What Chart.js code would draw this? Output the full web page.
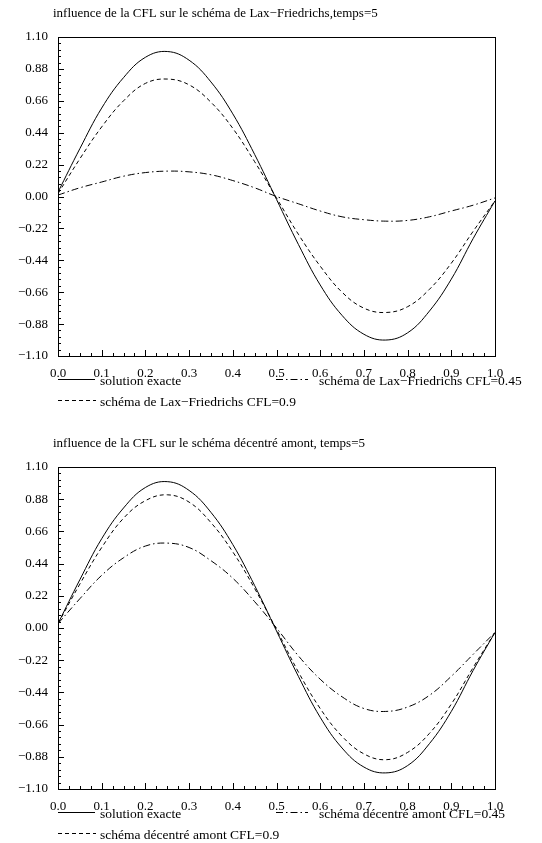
<!DOCTYPE html>
<html>
<head>
<meta charset="utf-8">
<script src="https://cdn.jsdelivr.net/npm/chart.js@4"></script>
<style>
  body { margin: 0; background: #fff; }
  canvas { display: block; }
</style>
</head>
<body>
<canvas id="laxChart" width="542" height="430"></canvas>
<canvas id="upwindChart" width="542" height="413"></canvas>
<script>
// abscisses
const xValues = [0, 0.05, 0.1, 0.15, 0.2, 0.25, 0.3, 0.35, 0.4, 0.45, 0.5,
  0.55, 0.6, 0.65, 0.7, 0.75, 0.8, 0.85, 0.9, 0.95, 1.0];

// solution exacte (identique sur les deux figures)
const exacte = [0.03, 0.33, 0.61, 0.82, 0.96, 1.00, 0.94, 0.79, 0.57, 0.29, -0.02,
  -0.33, -0.61, -0.82, -0.95, -0.99, -0.94, -0.79, -0.57, -0.29, -0.03];

// Lax-Friedrichs
const laxCfl09 = [0.02, 0.26, 0.48, 0.66, 0.78, 0.81, 0.77, 0.65, 0.47, 0.24, -0.01,
  -0.26, -0.48, -0.66, -0.77, -0.80, -0.76, -0.64, -0.46, -0.24, -0.03];
const laxCfl045 = [0.01, 0.06, 0.10, 0.14, 0.165, 0.175, 0.17, 0.15, 0.11, 0.06, 0.00,
  -0.05, -0.10, -0.14, -0.16, -0.17, -0.165, -0.14, -0.10, -0.06, -0.01];

// décentré amont
const amontCfl09 = [0.03, 0.30, 0.55, 0.75, 0.87, 0.91, 0.86, 0.72, 0.52, 0.27, -0.01,
  -0.30, -0.55, -0.74, -0.86, -0.90, -0.85, -0.72, -0.52, -0.27, -0.03];
const amontCfl045 = [0.03, 0.20, 0.36, 0.48, 0.56, 0.58, 0.55, 0.46, 0.34, 0.18, 0.00,
  -0.19, -0.35, -0.47, -0.55, -0.57, -0.54, -0.46, -0.33, -0.18, -0.03];

const xTicks = [0, 0.1, 0.2, 0.3, 0.4, 0.5, 0.6, 0.7, 0.8, 0.9, 1.0];
const xTickLabels = ['0.0', '0.1', '0.2', '0.3', '0.4', '0.5', '0.6', '0.7', '0.8', '0.9', '1.0'];
const yTicks = [-1.10, -0.88, -0.66, -0.44, -0.22, 0, 0.22, 0.44, 0.66, 0.88, 1.10];
const yTickLabels = ['\u22121.10', '\u22120.88', '\u22120.66', '\u22120.44', '\u22120.22', '0.00',
  '0.22', '0.44', '0.66', '0.88', '1.10'];

const FONT = '"Liberation Serif", "DejaVu Serif", serif';
const SOLID = [], DASHED = [4, 3], DASHDOT = [7, 3, 1.5, 3];

// cadre, graduations vers l'intérieur, titre et légende à la Scilab
const scilabPlugin = {
  id: 'scilab',
  afterDraw(chart, args, opts) {
    const ctx = chart.ctx;
    const a = chart.chartArea;
    const xs = chart.scales.x, ys = chart.scales.y;
    ctx.save();
    ctx.strokeStyle = '#000';
    ctx.lineWidth = 1;
    ctx.setLineDash([]);
    ctx.strokeRect(Math.round(a.left) + 0.5, Math.round(a.top) + 0.5,
      Math.round(a.right - a.left), Math.round(a.bottom - a.top));

    ctx.beginPath();
    for (let i = 0; i <= 40; i++) {
      const px = Math.round(xs.getPixelForValue(i * 0.025)) + 0.5;
      const len = i % 4 === 0 ? 6 : 3;
      ctx.moveTo(px, a.bottom);
      ctx.lineTo(px, a.bottom - len);
    }
    for (let i = 0; i <= 50; i++) {
      const py = Math.round(ys.getPixelForValue(-1.1 + i * 0.044)) + 0.5;
      const len = i % 5 === 0 ? 6 : 3;
      ctx.moveTo(a.left, py);
      ctx.lineTo(a.left + len, py);
    }
    ctx.stroke();

    ctx.fillStyle = '#000';
    ctx.font = '13px ' + FONT;
    ctx.textBaseline = 'middle';
    ctx.textAlign = 'left';
    ctx.fillText(opts.title, 53, 14);

    ctx.font = '13.5px ' + FONT;
    const y1 = a.bottom + 25, y2 = a.bottom + 46;
    const items = [
      { x0: 58, x1: 95, tx: 100, y: y1, dash: SOLID, text: opts.labels[0] },
      { x0: 276, x1: 308, tx: 319, y: y1, dash: DASHDOT, text: opts.labels[2] },
      { x0: 58, x1: 96, tx: 100, y: y2, dash: DASHED, text: opts.labels[1] }
    ];
    items.forEach(it => {
      ctx.setLineDash(it.dash);
      ctx.beginPath();
      ctx.moveTo(it.x0, Math.round(it.y - 2) + 0.5);
      ctx.lineTo(it.x1, Math.round(it.y - 2) + 0.5);
      ctx.stroke();
      ctx.fillText(it.text, it.tx, it.y);
    });
    ctx.restore();
  }
};

function serie(ys, dash) {
  return {
    data: xValues.map((x, i) => ({ x: x, y: ys[i] })),
    borderColor: '#000',
    borderWidth: 1,
    borderDash: dash,
    pointRadius: 0,
    tension: 0.4,
    fill: false
  };
}

function makeChart(id, title, labels, s09, s045, xAxisHeight) {
  return new Chart(document.getElementById(id), {
    type: 'line',
    data: {
      datasets: [serie(exacte, SOLID), serie(s09, DASHED), serie(s045, DASHDOT)]
    },
    options: {
      responsive: false,
      animation: false,
      devicePixelRatio: 1,
      layout: { padding: { top: 37, right: 47, left: 0, bottom: 0 } },
      plugins: {
        legend: { display: false },
        tooltip: { enabled: false },
        scilab: { title: title, labels: labels }
      },
      scales: {
        x: {
          type: 'linear', min: 0, max: 1,
          grid: { display: false, drawTicks: false },
          border: { display: false },
          afterBuildTicks: s => { s.ticks = xTicks.map(v => ({ value: v })); },
          afterFit: s => { s.height = xAxisHeight; },
          ticks: {
            autoSkip: false, maxRotation: 0, padding: 10,
            color: '#000', font: { family: FONT, size: 13 },
            callback: (v, i) => xTickLabels[i]
          }
        },
        y: {
          type: 'linear', min: -1.1, max: 1.1,
          grid: { display: false, drawTicks: false },
          border: { display: false },
          afterBuildTicks: s => { s.ticks = yTicks.map(v => ({ value: v })); },
          afterFit: s => { s.width = 58; },
          ticks: {
            autoSkip: false, padding: 10,
            color: '#000', font: { family: FONT, size: 13 },
            callback: (v, i) => yTickLabels[i]
          }
        }
      }
    },
    plugins: [scilabPlugin]
  });
}

makeChart('laxChart',
  'influence de la CFL sur le schéma de Lax\u2212Friedrichs,temps=5',
  ['solution exacte', 'schéma de Lax\u2212Friedrichs CFL=0.9', 'schéma de Lax\u2212Friedrichs CFL=0.45'],
  laxCfl09, laxCfl045, 74);

makeChart('upwindChart',
  'influence de la CFL sur le schéma décentré amont, temps=5',
  ['solution exacte', 'schéma décentré amont CFL=0.9', 'schéma décentré amont CFL=0.45'],
  amontCfl09, amontCfl045, 54);
</script>
</body>
</html>
